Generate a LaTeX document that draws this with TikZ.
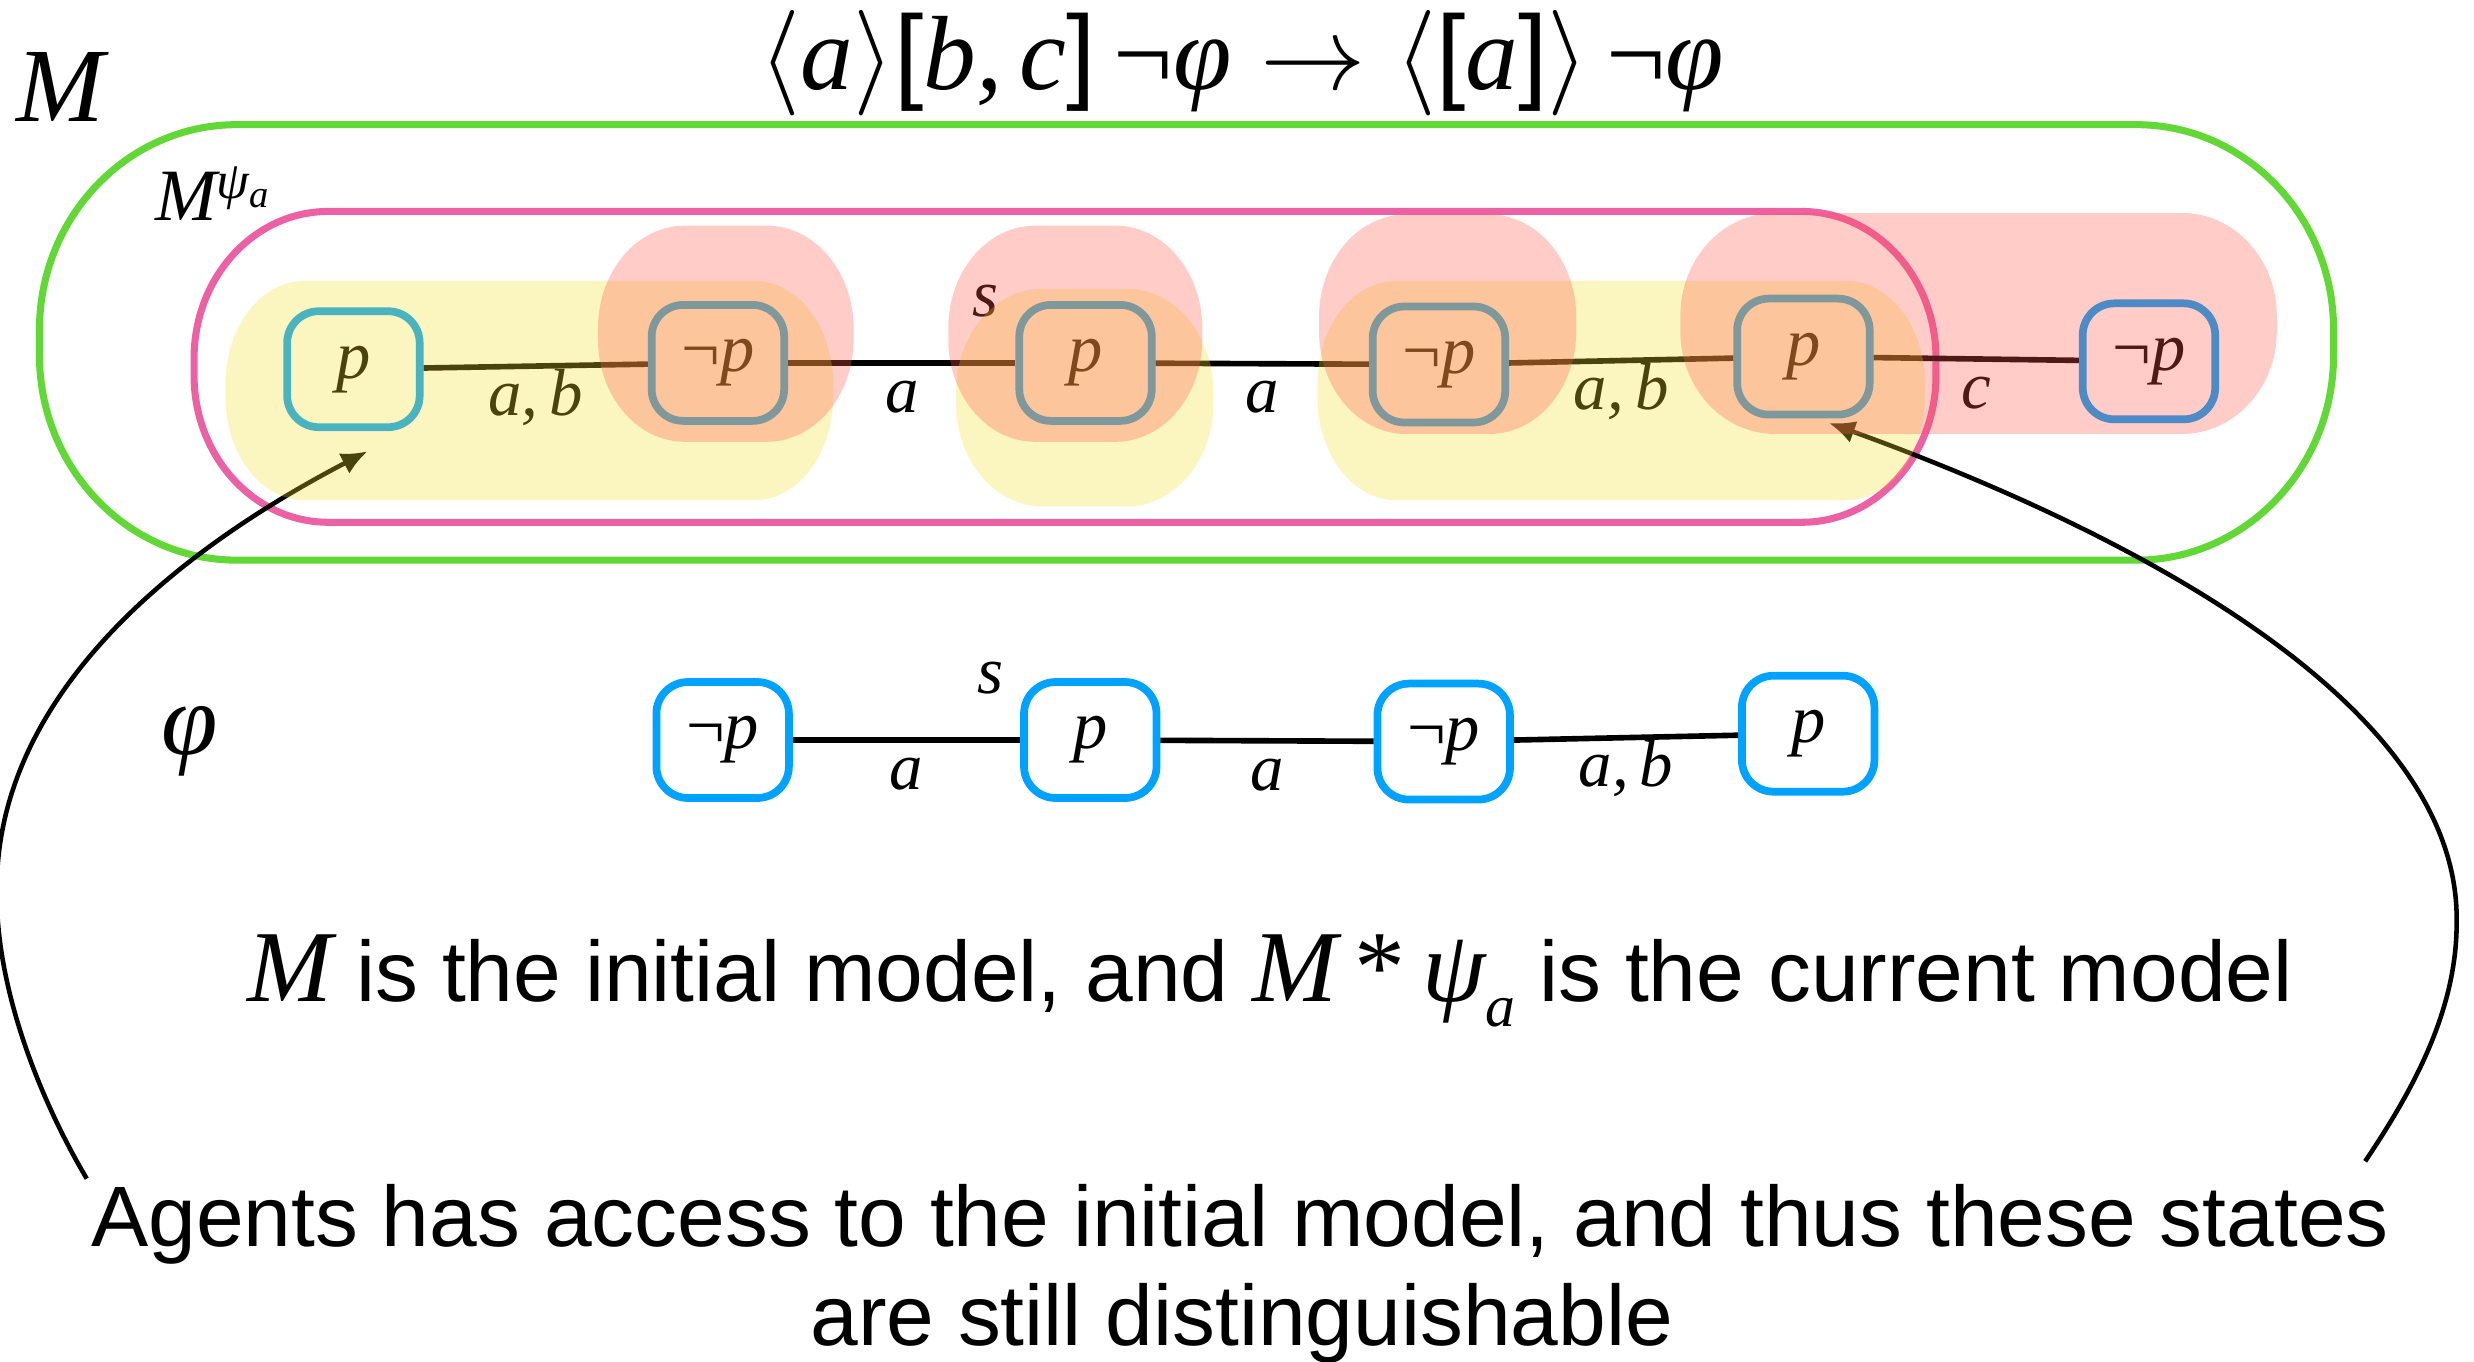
\RequirePackage{fix-cm}
\documentclass[tikz,border=0pt]{standalone}
\usepackage{fontspec}
\setmainfont{Liberation Sans}
\newfontfamily\tms{Liberation Serif}
\usetikzlibrary{arrows.meta}
\definecolor{mgreen}{RGB}{98,216,54}
\definecolor{mpink}{RGB}{236,96,164}
\definecolor{mblue}{RGB}{0,162,255}
\definecolor{hly}{RGB}{245,222,45}
\definecolor{hlr}{RGB}{255,88,72}
\newcommand\mi[1]{{\tms\itshape #1}}
\newcommand\myneg{{\tms\upshape ¬}}
% x0 y0 x1 y1 rx ry options
\newcommand\softbox[7]{\path[#7] (#1+#5,#2) -- (#3-#5,#2) .. controls (#3-0.448*#5,#2) and (#3,#2+0.448*#6) .. (#3,#2+#6) -- (#3,#4-#6) .. controls (#3,#4-0.448*#6) and (#3-0.448*#5,#4) .. (#3-#5,#4) -- (#1+#5,#4) .. controls (#1+0.448*#5,#4) and (#1,#4-0.448*#6) .. (#1,#4-#6) -- (#1,#2+#6) .. controls (#1,#2+0.448*#6) and (#1+0.448*#5,#2) .. (#1+#5,#2) -- cycle;}
\begin{document}
\begin{tikzpicture}[x=0.01578cm, y=-0.01578cm,
  wstate/.style={draw=mblue, line width=2.2pt, rounded corners=9pt, minimum width=37.7pt, minimum height=33pt, inner sep=0pt, font=\fontsize{19.5}{21}\selectfont},
  link/.style={line width=1.6pt},
  elab/.style={anchor=base, yshift=-14pt, inner sep=0pt, font=\fontsize{19}{21}\selectfont},
  slab/.style={inner sep=0pt, font=\fontsize{19}{21}\selectfont},
  curvearrow/.style={line width=1.3pt, -{Latex[length=7.5pt,width=6.5pt]}},
  txt/.style={anchor=base, inner sep=0pt, font=\fontsize{24.4}{28}\selectfont},
  yhl/.style={fill=hly, fill opacity=0.3},
  rhl/.style={fill=hlr, fill opacity=0.3}]
\useasboundingbox (0,0) rectangle (1568,863);
\fill[white] (0,0) rectangle (1568,863);

% outlines
\softbox{25}{79}{1479}{355}{125}{130}{draw=mgreen, line width=2pt}
\softbox{123}{134}{1227}{331}{85}{93}{draw=mpink, line width=2pt}

% title and labels
\node[anchor=base, inner sep=0pt] (title) at (787,57) {\fontsize{30}{33}\selectfont $\langle$\mi{a}$\rangle$[\mi{b,}\,\mi{c}]\,\myneg\mi{φ} $\rightarrow$ $\langle$[\mi{a}]$\rangle$\,\myneg\mi{φ}};
\node[anchor=base west, inner sep=0pt] (Mlab) at (10,77) {\fontsize{30}{32}\selectfont\mi{M}};
\node[anchor=base west, inner sep=0pt] (Mpsi) at (98,140) {\fontsize{21}{24}\selectfont\mi{M}\raisebox{6.5pt}{\fontsize{15}{16}\selectfont\mi{ψ}\raisebox{-2.8pt}{\fontsize{11}{12}\selectfont\mi{a}}}};
\node[anchor=base, inner sep=0pt] (philab) at (120,478) {\fontsize{29}{32}\selectfont\mi{φ}};

% row 1
\node[wstate] (r1) at (224,234) {\mi{p}};
\node[wstate] (r2) at (455,230) {\myneg\mi{p}};
\node[wstate] (r3) at (688,230) {\mi{p}};
\node[wstate] (r4) at (912,231) {\myneg\mi{p}};
\node[wstate] (r5) at (1143,226) {\mi{p}};
\node[wstate] (r6) at (1362,229) {\myneg\mi{p}};
\draw[link] (r1) -- node[elab] {\mi{a,}\,\mi{b}} (r2);
\draw[link] (r2) -- node[elab] {\mi{a}} (r3);
\draw[link] (r3) -- node[elab] {\mi{a}} (r4);
\draw[link] (r4) -- node[elab] {\mi{a,}\,\mi{b}} (r5);
\draw[link] (r5) -- node[elab] {\mi{c}} (r6);
\node[slab] (s1) at ([xshift=-8.5pt]r3.north west) {\mi{s}};

% curved arrows
\coordinate (L0) at (55,747);
\coordinate (Lm) at (-2,560);
\coordinate (Lt) at (233,286);
\coordinate (R0) at (1499,736);
\coordinate (Rm) at (1557,585);
\coordinate (Rt) at (1159,268);
\draw[curvearrow] (L0) .. controls (30,705) and (-4,630) .. (Lm) .. controls (0,440) and (110,350) .. (Lt);
\draw[curvearrow] (R0) .. controls (1530,690) and (1557,640) .. (Rm) .. controls (1560,430) and (1300,319) .. (Rt);

% highlights
\softbox{143}{178}{528}{317}{50}{65}{yhl}
\softbox{606}{183}{769}{321}{55}{65}{yhl}
\softbox{835}{178}{1220}{317}{50}{65}{yhl}
\softbox{379}{143}{541}{280}{55}{65}{rhl}
\softbox{601}{143}{762}{280}{55}{65}{rhl}
\softbox{836}{136}{999}{275}{55}{65}{rhl}
\softbox{1065}{135}{1443}{275}{60}{65}{rhl}

% row 2
\node[wstate] (q1) at (458,469) {\myneg\mi{p}};
\node[wstate] (q2) at (691,469) {\mi{p}};
\node[wstate] (q3) at (915,470) {\myneg\mi{p}};
\node[wstate] (q4) at (1146,465) {\mi{p}};
\draw[link] (q1) -- node[elab] {\mi{a}} (q2);
\draw[link] (q2) -- node[elab] {\mi{a}} (q3);
\draw[link] (q3) -- node[elab] {\mi{a,}\,\mi{b}} (q4);
\node[slab] (s2) at ([xshift=-8.5pt]q2.north west) {\mi{s}};

% texts
\node[txt] (line1) at (805,635) {{\fontsize{29}{32}\selectfont\mi{M}} is the initial model, and {\fontsize{29}{32}\selectfont\mi{M}\,{\tms *}\,\mi{ψ}}\raisebox{-7pt}{\fontsize{17}{18}\selectfont\mi{a}} is the current model};
\node[txt] (line2) at (786,790) {Agents has access to the initial model, and thus these states};
\node[txt] (line3) at (787,853) {are still distinguishable};
\end{tikzpicture}
\end{document}
